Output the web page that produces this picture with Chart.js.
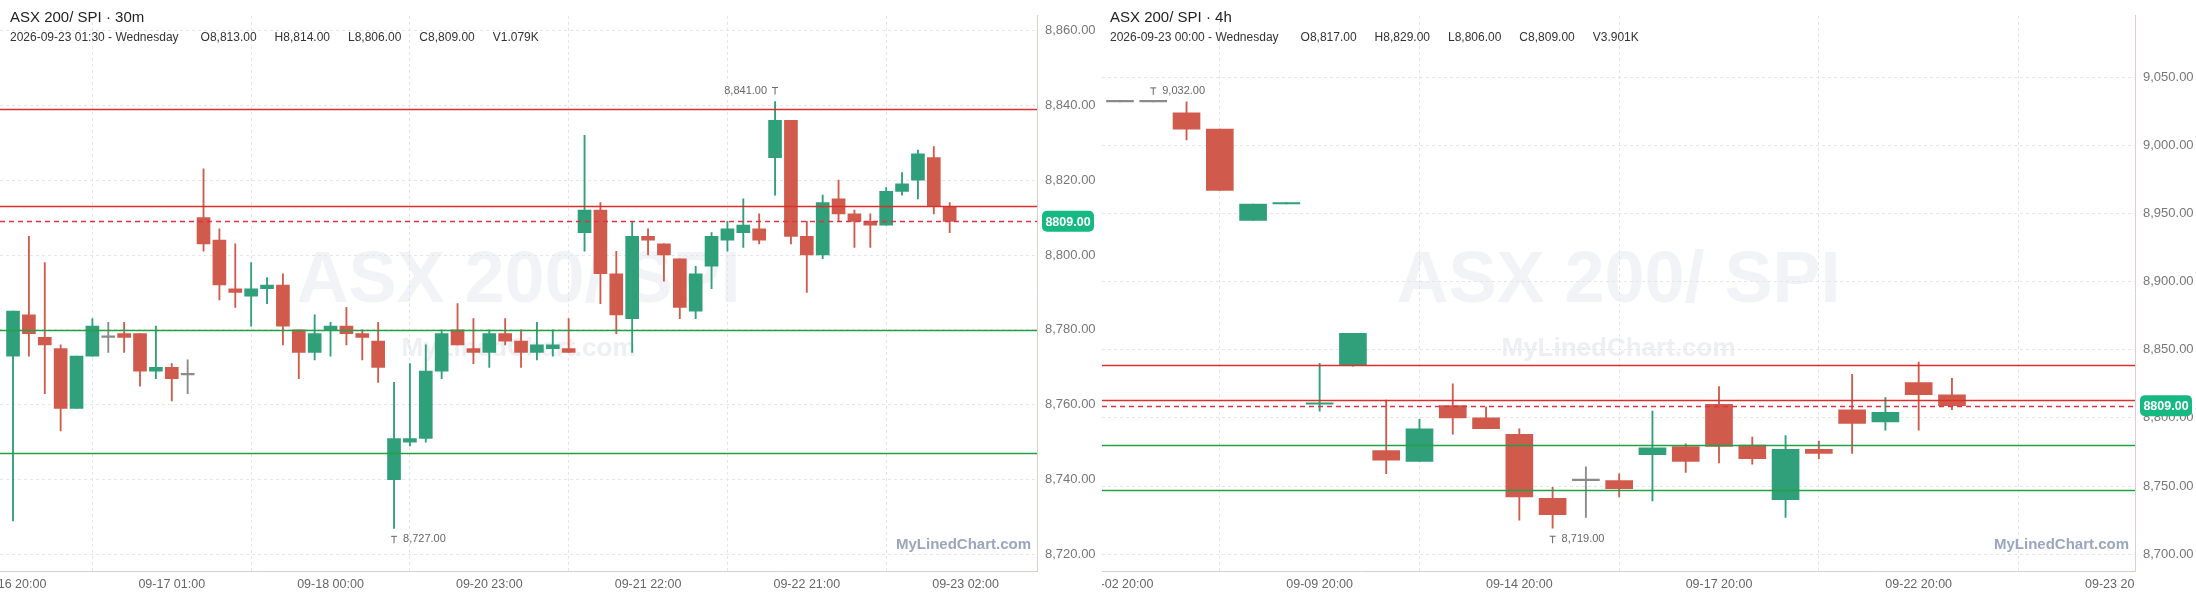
<!DOCTYPE html>
<html>
<head>
<meta charset="utf-8">
<script src="https://cdn.jsdelivr.net/npm/chart.js@4.4.1/dist/chart.umd.min.js"></script>
<style>
  body{margin:0;background:#fff;width:2196px;height:597px;overflow:hidden;position:relative}
  #c1{position:absolute;left:0;top:0}
  #c2{position:absolute;left:1100px;top:0}
</style>
</head>
<body>
<canvas id="c1" width="1100" height="597"></canvas>
<canvas id="c2" width="1096" height="597"></canvas>
<script>
// 30m panel
var open30  = [8773,8784,8778,8775,8759,8773,8778,8779,8779,8769,8770,8768,8810,8804,8791,8789,8791,8792,8780,8774,8780,8781,8779,8777,8740,8750,8751,8769,8780,8775,8774,8779,8777,8774,8775,8775,8806,8812,8795,8783,8805,8803,8799,8785,8797,8804,8806,8807,8826,8836,8805,8800,8815,8811,8809,8808,8817,8820,8826,8813];
var high30  = [8785,8805,8798,8776,8773,8783,8782,8782,8779,8781,8771,8772,8823,8807,8803,8798,8794,8795,8780,8784,8782,8786,8780,8782,8766,8771,8776,8780,8787,8783,8780,8783,8780,8782,8780,8783,8832,8814,8801,8809,8807,8803,8799,8797,8806,8809,8815,8811,8841,8836,8809,8816,8820,8812,8811,8818,8822,8828,8829,8814];
var low30   = [8729,8773,8763,8753,8759,8773,8774,8774,8765,8767,8761,8763,8801,8788,8786,8781,8787,8776,8767,8772,8773,8776,8772,8766,8727,8749,8750,8767,8776,8771,8770,8776,8770,8772,8773,8774,8801,8787,8779,8774,8800,8793,8783,8783,8791,8801,8802,8803,8816,8803,8790,8799,8809,8802,8802,8808,8816,8815,8811,8806];
var close30 = [8785,8779,8776,8759,8773,8781,8778,8778,8769,8770,8767,8768,8803,8792,8790,8791,8792,8781,8774,8779,8781,8779,8778,8770,8751,8751,8769,8779,8776,8774,8779,8777,8774,8776,8776,8774,8812,8795,8784,8805,8804,8800,8786,8795,8805,8807,8808,8804,8836,8805,8800,8814,8811,8809,8808,8817,8819,8827,8813,8809];
var xTicks30 = [0,10,20,30,40,50,60];
var xLabels30 = ["09-16 20:00","09-17 01:00","09-18 00:00","09-20 23:00","09-21 22:00","09-22 21:00","09-23 02:00"];
var yTicks30 = [8720,8740,8760,8780,8800,8820,8840,8860];

// 4h panel
var open4h  = [9032,9032,9024,9012,8945,8957,8810,8839,8776,8768,8809,8800,8788,8741,8754,8754,8773,8779,8810,8780,8740,8777,8806,8797,8826,8817];
var high4h  = [9032,9032,9032,9012,8957,8958,8840,8862,8813,8799,8825,8808,8792,8749,8764,8759,8805,8781,8823,8786,8787,8783,8832,8815,8841,8829];
var low4h   = [9032,9032,9004,8967,8945,8957,8805,8838,8759,8768,8788,8792,8725,8719,8727,8742,8739,8760,8767,8766,8727,8770,8774,8791,8791,8806];
var close4h = [9032,9032,9012,8967,8957,8958,8811,8862,8769,8792,8800,8792,8742,8729,8754,8748,8778,8768,8779,8770,8777,8774,8796,8804,8817,8809];
var xTicks4h = [0,6,12,18,24,30];
var xLabels4h = ["09-02 20:00","09-09 20:00","09-14 20:00","09-17 20:00","09-22 20:00","09-23 20:00"];
var yTicks4h = [8700,8750,8800,8850,8900,8950,9000,9050];

// level lines shared by both panels
var levelValues = [8839,8813,8809,8780,8747];
var levelColors = ["#d9302c","#d9302c","#e0304a","#23a047","#23a047"];
var levelDashed = [false,false,true,false,false];
var lastPrice = 8809;

var UP="#2fa07a", DOWN="#d05b4d", FLAT="#8a8a8a";
var FONT="'Liberation Sans', Arial, sans-serif";

function colorsOf(o,c){return o.map(function(v,i){return c[i]>v?UP:(c[i]<v?DOWN:FLAT);});}
function fmt(v){return v.toLocaleString('en-US',{minimumFractionDigits:2,maximumFractionDigits:2});}

function makeChart(id,cfg){
  var cols=colorsOf(cfg.o,cfg.c);
  var bodies=cfg.o.map(function(v,i){var a=v,b=cfg.c[i];if(a===b){b=a+0.01;}return {x:i,y:[a,b]};});
  var wicks=cfg.h.map(function(v,i){return {x:i,y:[cfg.l[i],v]};});
  var deco={
    id:'deco',
    beforeDatasetsDraw:function(ch){
      var ctx=ch.ctx,a=ch.chartArea;
      ctx.save();
      ctx.textAlign='center';ctx.textBaseline='middle';
      ctx.fillStyle='rgba(225,228,234,0.45)';
      ctx.font='bold 72px '+FONT;
      ctx.fillText('ASX 200/ SPI',(a.left+a.right)/2,a.top+(a.bottom-a.top)*0.48);
      ctx.font='bold 26px '+FONT;
      ctx.fillStyle='rgba(225,228,234,0.6)';
      ctx.fillText('MyLinedChart.com',(a.left+a.right)/2,a.top+(a.bottom-a.top)*0.6);
      ctx.restore();
    },
    afterDatasetsDraw:function(ch){
      var ctx=ch.ctx,a=ch.chartArea,xs=ch.scales.x,ys=ch.scales.y;
      ctx.save();
      levelValues.forEach(function(v,i){
        var y=Math.round(ys.getPixelForValue(v))+0.5;
        ctx.strokeStyle=levelColors[i];ctx.lineWidth=1.3;
        ctx.setLineDash(levelDashed[i]?[5,4]:[]);
        ctx.beginPath();ctx.moveTo(a.left,y);ctx.lineTo(a.right,y);ctx.stroke();
      });
      ctx.setLineDash([]);
      ctx.font='11px '+FONT;ctx.fillStyle='#666';ctx.strokeStyle='#666';ctx.lineWidth=1;
      cfg.notes.forEach(function(n){
        var x=xs.getPixelForValue(n.i);
        var v=n.hi?cfg.h[n.i]:cfg.l[n.i];
        var y=ys.getPixelForValue(v)+(n.hi?-11:11);
        ctx.textBaseline='middle';
        ctx.textAlign=n.left?'right':'left';
        ctx.fillText(fmt(v),n.left?x-8:x+9,y);
        ctx.beginPath();
        ctx.moveTo(x-3,y-3);ctx.lineTo(x+3,y-3);ctx.moveTo(x,y-3);ctx.lineTo(x,y+4);
        ctx.stroke();
      });
      ctx.font='bold 15px '+FONT;ctx.fillStyle='#9aa6bf';ctx.textAlign='right';ctx.textBaseline='middle';
      ctx.fillText('MyLinedChart.com',a.right-6,a.bottom-26);
      ctx.textAlign='left';ctx.textBaseline='middle';ctx.fillStyle='#222';
      ctx.font='15px '+FONT;ctx.fillText(cfg.title,a.left+cfg.hx,18);
      ctx.font='12px '+FONT;ctx.fillStyle='#333';
      var x0=a.left+cfg.hx;
      cfg.info.forEach(function(t,k){ctx.fillText(t,x0,38);x0+=ctx.measureText(t).width+(k===0?22:18);});
      ctx.save();
      ctx.beginPath();ctx.rect(a.left,a.bottom,a.right-a.left,40);ctx.clip();
      ctx.font='12.5px '+FONT;ctx.fillStyle='#666';ctx.textAlign='center';
      cfg.xt.forEach(function(t,k){ctx.fillText(cfg.xl[k],xs.getPixelForValue(t),a.bottom+14);});
      ctx.restore();
      var py=ys.getPixelForValue(lastPrice);
      var tx=a.right+5,tw=52,th=21;
      ctx.fillStyle='#17b982';
      ctx.beginPath();ctx.roundRect(tx,py-th/2,tw,th,5);ctx.fill();
      ctx.fillStyle='#fff';ctx.font='bold 12.5px '+FONT;ctx.textAlign='center';
      ctx.fillText('8809.00',tx+tw/2,py+1);
      ctx.restore();
    }
  };
  return new Chart(document.getElementById(id),{
    type:'bar',
    data:{datasets:[
      {data:wicks,backgroundColor:cols,barThickness:1.2,grouped:false,order:2},
      {data:bodies,backgroundColor:cols,barThickness:cfg.bw,grouped:false,minBarLength:1.5,order:1}
    ]},
    options:{
      responsive:false,animation:false,devicePixelRatio:1,
      layout:{padding:{left:cfg.padL,top:0,right:0,bottom:0}},
      plugins:{legend:{display:false},tooltip:{enabled:false}},
      scales:{
        x:{type:'linear',min:cfg.xmin,max:cfg.xmax,offset:false,
          afterBuildTicks:function(ax){ax.ticks=cfg.xt.map(function(v){return {value:v};});},
          afterFit:function(ax){ax.height=26;},
          ticks:{display:false},
          grid:{color:'#e4e4e4',tickLength:0},
          border:{display:true,color:'#d8d0c8',dash:[3,3]}
        },
        y:{position:'right',min:cfg.ymin,max:cfg.ymax,
          afterBuildTicks:function(ax){ax.ticks=cfg.yt.map(function(v){return {value:v};});},
          afterFit:function(ax){ax.width=cfg.axw;},
          ticks:{color:'#777',font:{size:13,family:FONT},padding:8,callback:function(v){return fmt(v);}},
          grid:{color:'#e6e6e6',tickLength:0},
          border:{display:true,color:'#d8d0c8',dash:[3,3]}
        }
      }
    },
    plugins:[deco]
  });
}

makeChart('c1',{o:open30,h:high30,l:low30,c:close30,bw:13,xmin:-0.82,xmax:64.5,ymin:8715.6,ymax:8863.9,
  xt:xTicks30,xl:xLabels30,yt:yTicks30,axw:63,padL:0,hx:10,
  title:'ASX 200/ SPI · 30m',
  info:['2026-09-23 01:30 - Wednesday','O8,813.00','H8,814.00','L8,806.00','C8,809.00','V1.079K'],
  notes:[{i:48,hi:true,left:true},{i:24,hi:false,left:false}]});

makeChart('c2',{o:open4h,h:high4h,l:low4h,c:close4h,bw:27,xmin:-0.54,xmax:30.5,ymin:8687.6,ymax:9095.2,
  xt:xTicks4h,xl:xLabels4h,yt:yTicks4h,axw:61,padL:2,hx:8,
  title:'ASX 200/ SPI · 4h',
  info:['2026-09-23 00:00 - Wednesday','O8,817.00','H8,829.00','L8,806.00','C8,809.00','V3.901K'],
  notes:[{i:1,hi:true,left:false},{i:13,hi:false,left:false}]});
</script>
</body>
</html>
